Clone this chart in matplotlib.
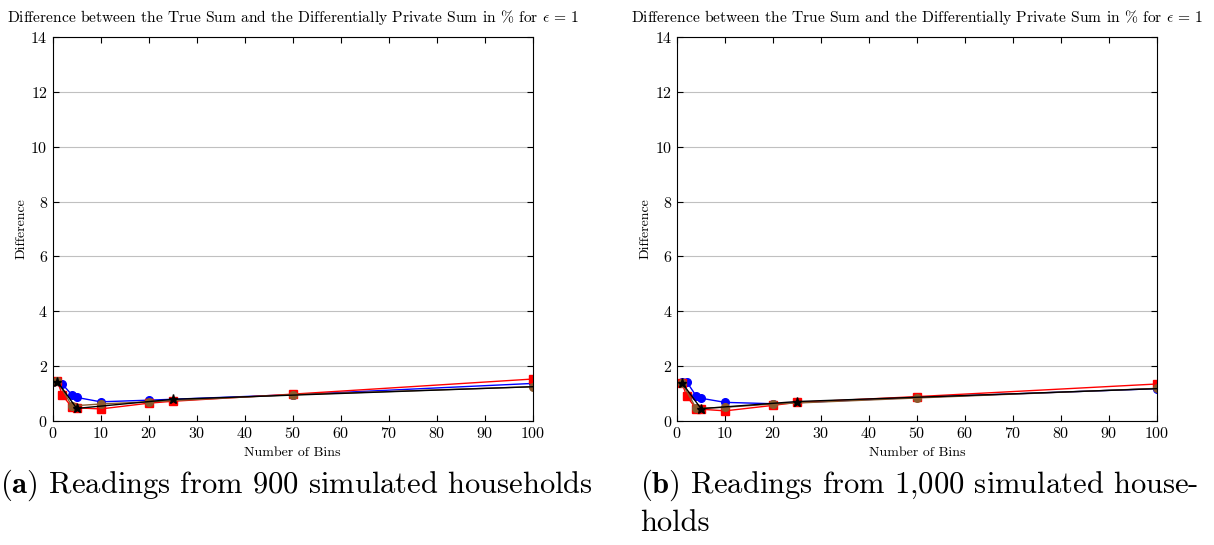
import matplotlib
matplotlib.use("Agg")
import matplotlib.pyplot as plt

plt.rcParams['font.family'] = 'serif'
plt.rcParams['font.serif'] = ['cmr10', 'DejaVu Serif']
plt.rcParams['mathtext.fontset'] = 'cm'
plt.rcParams['axes.formatter.use_mathtext'] = True

# Data
blue_x = [1, 2, 4, 5, 10, 20, 50, 100]
red_x = [1, 2, 4, 5, 10, 20, 25, 50, 100]
black_x = [1, 5, 25, 100]
brown_x = [1, 4, 10, 20, 50, 100]

# (a) 900 households
blue_a = [1.45, 1.35, 0.95, 0.86, 0.70, 0.76, 0.96, 1.37]
red_a = [1.45, 0.95, 0.50, 0.48, 0.44, 0.65, 0.72, 0.98, 1.53]
black_a = [1.43, 0.46, 0.79, 1.25]
brown_a = [1.45, 0.55, 0.62, 0.70, 0.96, 1.25]

# (b) 1,000 households
blue_b = [1.42, 1.43, 0.91, 0.83, 0.68, 0.63, 0.86, 1.18]
red_b = [1.40, 0.91, 0.44, 0.43, 0.37, 0.57, 0.68, 0.89, 1.35]
black_b = [1.40, 0.45, 0.71, 1.18]
brown_b = [1.40, 0.46, 0.50, 0.62, 0.84, 1.19]

xticks = list(range(0, 101, 10))
yticks = list(range(0, 15, 2))
title = r'Difference between the True Sum and the Differentially Private Sum in % for $\epsilon$ = 1'

fig = plt.figure(figsize=(12.14, 5.45), dpi=100)
ax_a = fig.add_axes([0.0434, 0.2275, 0.3954, 0.7046])
ax_b = fig.add_axes([0.5577, 0.2275, 0.3954, 0.7046])

panels = [(ax_a, blue_a, red_a, black_a, brown_a),
          (ax_b, blue_b, red_b, black_b, brown_b)]

for ax, bl, rd, bk, br in panels:
    ax.plot(blue_x, bl, color='#0000ff', marker='o', markersize=5.5, linewidth=1)
    ax.plot(red_x, rd, color='#ff0000', marker='s', markersize=5.5, linewidth=1)
    ax.plot(brown_x, br, color='#8c5a2e', marker='o', markersize=5.5, linewidth=1)
    ax.plot(black_x, bk, color='black', marker='*', markersize=6.5, linewidth=1,
            markevery=[0, 1, 2])

    ax.set_xlim(0, 100)
    ax.set_ylim(0, 14)
    ax.set_xticks(xticks)
    ax.set_yticks(yticks)
    ax.tick_params(direction='in', top=True, right=True, labelsize=11.5, length=4)
    ax.yaxis.grid(True, color='#c0c0c0', linewidth=0.8)
    ax.set_axisbelow(True)
    ax.set_xlabel('Number of Bins', fontsize=10, labelpad=4)
    ax.set_ylabel('Difference', fontsize=10, labelpad=2)
    ax.set_title(title, fontsize=11.2, pad=11)

# Sub-captions
fig.text(0.0, 0.11, r'$\mathbf{(a)}$ Readings from 900 simulated households',
         fontsize=22, ha='left', va='center')
fig.text(0.527, 0.11, r'$\mathbf{(b)}$ Readings from 1,000 simulated house-',
         fontsize=22, ha='left', va='center')
fig.text(0.527, 0.04, 'holds', fontsize=22, ha='left', va='center')

plt.savefig('out.png', dpi=100)
